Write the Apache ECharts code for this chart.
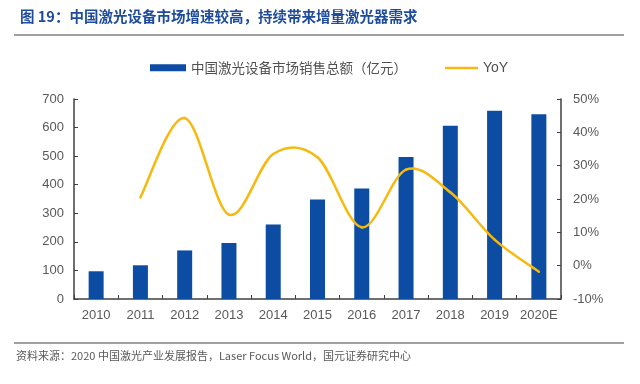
<!DOCTYPE html>
<html>
<head>
<meta charset="utf-8">
<script src="https://cdn.jsdelivr.net/npm/echarts@6/dist/echarts.min.js"></script>
<style>
html,body{margin:0;padding:0;background:#fff;}
#chart{width:640px;height:384px;}
</style>
</head>
<body>
<div id="chart"></div>
<script>
var categories = ['2010','2011','2012','2013','2014','2015','2016','2017','2018','2019','2020E'];
var salesValues = [97, 118, 170, 196, 261, 348, 387, 497, 606, 659, 647];
var yoyValues = [null, 20.5, 44.3, 15.3, 33.5, 32.5, 11.5, 28.8, 22.0, 7.8, -1.8];
var leftTicks = {min: 0, max: 700, interval: 100};
var rightTicks = {min: -10, max: 50, interval: 10};
var seriesNames = ['中国激光设备市场销售总额（亿元）', 'YoY'];
var titleText = '图 19：中国激光设备市场增速较高，持续带来增量激光器需求';
var sourceText = '资料来源：2020 中国激光产业发展报告，Laser Focus World，国元证券研究中心';

var FONT = '"Noto Sans CJK SC", "Liberation Sans", sans-serif';
var axisColor = '#404040';
var labelColor = '#595959';
var lineColor = '#F6B90E';

var yoyPoints = [];
yoyValues.forEach(function (v, i) { if (v !== null) yoyPoints.push([i, v]); });

function renderSmoothLine(params, api) {
  if (params.dataIndex !== 0) return null;
  var pts = yoyPoints.map(function (d) { return api.coord(d); });
  var children = [];
  var n = pts.length;
  for (var i = 0; i < n - 1; i++) {
    var p0 = pts[Math.max(i - 1, 0)], p1 = pts[i], p2 = pts[i + 1], p3 = pts[Math.min(i + 2, n - 1)];
    children.push({
      type: 'bezierCurve',
      shape: {
        x1: p1[0], y1: p1[1], x2: p2[0], y2: p2[1],
        cpx1: p1[0] + (p2[0] - p0[0]) / 6, cpy1: p1[1] + (p2[1] - p0[1]) / 6,
        cpx2: p2[0] - (p3[0] - p1[0]) / 6, cpy2: p2[1] - (p3[1] - p1[1]) / 6
      },
      style: {stroke: lineColor, lineWidth: 2.5, fill: null, lineCap: 'round'}
    });
  }
  return {type: 'group', children: children};
}

var chart = echarts.init(document.getElementById('chart'), null, {renderer: 'canvas'});
chart.setOption({
  backgroundColor: '#ffffff',
  animation: false,
  title: {
    text: titleText,
    left: 15, top: 4,
    textStyle: {fontFamily: FONT, fontSize: 14.5, fontWeight: 'bold', color: '#1E4C9B'}
  },
  graphic: [
    {type: 'line', shape: {x1: 14, y1: 35, x2: 624, y2: 35}, style: {stroke: '#404040', lineWidth: 1}},
    {type: 'line', shape: {x1: 14, y1: 343, x2: 624, y2: 343}, style: {stroke: '#404040', lineWidth: 1}},
    {type: 'text', left: 16, top: 350, style: {text: sourceText, font: '11px ' + FONT, fill: '#595959'}}
  ],
  legend: [
    {
      left: 145, top: 56,
      itemWidth: 36, itemHeight: 7,
      textStyle: {fontFamily: FONT, fontSize: 13.5, color: '#505050'},
      data: [{name: seriesNames[0], icon: 'rect'}]
    },
    {
      left: 440, top: 56,
      itemWidth: 33, itemHeight: 2.5,
      textStyle: {fontFamily: '"Liberation Sans", Arial, sans-serif', fontSize: 14, color: '#505050'},
      data: [{name: seriesNames[1], icon: 'rect', itemStyle: {color: lineColor}}]
    }
  ],
  grid: {left: 74, right: 79, top: 99, bottom: 85},
  xAxis: {
    type: 'category',
    data: categories,
    axisLine: {lineStyle: {color: axisColor, width: 1.5}},
    axisTick: {show: true, inside: true, length: 4, alignWithLabel: false, lineStyle: {color: axisColor}},
    axisLabel: {fontFamily: '"Liberation Sans", Arial, sans-serif', fontSize: 13, color: labelColor, margin: 10, interval: 0}
  },
  yAxis: [
    {
      type: 'value', min: leftTicks.min, max: leftTicks.max, interval: leftTicks.interval,
      axisLine: {show: true, lineStyle: {color: axisColor, width: 1.5}},
      axisTick: {show: true, inside: true, length: 4, lineStyle: {color: axisColor}},
      splitLine: {show: false},
      axisLabel: {fontFamily: '"Liberation Sans", Arial, sans-serif', fontSize: 13, color: labelColor, margin: 10}
    },
    {
      type: 'value', min: rightTicks.min, max: rightTicks.max, interval: rightTicks.interval,
      position: 'right',
      axisLine: {show: true, lineStyle: {color: axisColor, width: 1.5}},
      axisTick: {show: true, inside: true, length: 4, lineStyle: {color: axisColor}},
      splitLine: {show: false},
      axisLabel: {fontFamily: '"Liberation Sans", Arial, sans-serif', fontSize: 13, color: labelColor, margin: 12,
        formatter: function (v) { return v + '%'; }}
    }
  ],
  series: [
    {
      name: seriesNames[0], type: 'bar', yAxisIndex: 0, barWidth: 15,
      itemStyle: {color: '#0C4CA3'},
      data: salesValues
    },
    {
      name: seriesNames[1], type: 'custom', yAxisIndex: 1,
      itemStyle: {color: lineColor},
      renderItem: renderSmoothLine,
      encode: {x: 0, y: 1},
      data: yoyPoints,
      clip: false,
      z: 3
    }
  ]
});
</script>
</body>
</html>
